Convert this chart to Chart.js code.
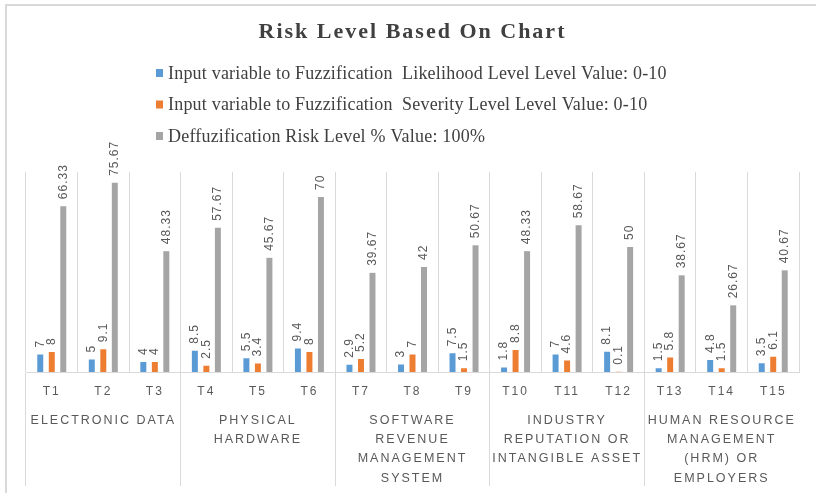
<!DOCTYPE html>
<html>
<head>
<meta charset="utf-8">
<title>Risk Level Based On Chart</title>
<script src="https://cdn.jsdelivr.net/npm/chart.js@4/dist/chart.umd.min.js"></script>
<style>
  html, body { margin: 0; padding: 0; background: #ffffff; }
  #wrap { width: 816px; height: 493px; }
</style>
</head>
<body>
<div id="wrap"><canvas id="riskChart" width="816" height="493"></canvas></div>
<script>
var tasks = ['T1', 'T2', 'T3', 'T4', 'T5', 'T6', 'T7', 'T8', 'T9', 'T10', 'T11', 'T12', 'T13', 'T14', 'T15'];

var groups = [
    ['ELECTRONIC DATA'],
    ['PHYSICAL', 'HARDWARE'],
    ['SOFTWARE', 'REVENUE', 'MANAGEMENT', 'SYSTEM'],
    ['INDUSTRY', 'REPUTATION OR', 'INTANGIBLE ASSET'],
    ['HUMAN RESOURCE', 'MANAGEMENT', '(HRM) OR', 'EMPLOYERS']
];

var seriesNames = [
    'Input variable to Fuzzification  Likelihood Level Level Value: 0-10',
    'Input variable to Fuzzification  Severity Level Level Value: 0-10',
    'Deffuzification Risk Level % Value: 100%'
];

var likelihood = [7, 5, 4, 8.5, 5.5, 9.4, 2.9, 3, 7.5, 1.8, 7, 8.1, 1.5, 4.8, 3.5];
var severity = [8, 9.1, 4, 2.5, 3.4, 8, 5.2, 7, 1.5, 8.8, 4.6, 0.1, 5.8, 1.5, 6.1];
var riskLevel = [66.33, 75.67, 48.33, 57.67, 45.67, 70, 39.67, 42, 50.67, 48.33, 58.67, 50, 38.67, 26.67, 40.67];

var seriesColors = ['#5b9bd5', '#ed7d31', '#a5a5a5'];

var gridColor = '#d9d9d9';
var textColor = '#595959';
var sansFont = '"Liberation Sans", Arial, sans-serif';
var serifFont = '"Liberation Serif", "Times New Roman", serif';

// frame lines + letter spacing for the axis text
var framePlugin = {
    id: 'frame',
    beforeDraw: function(chart) {
        var ctx = chart.ctx;
        ctx.save();
        ctx.strokeStyle = gridColor;
        ctx.lineWidth = 2;
        ctx.beginPath();
        ctx.moveTo(6, chart.height);
        ctx.lineTo(6, 5);
        ctx.lineTo(chart.width, 5);
        ctx.stroke();
        ctx.restore();
        ctx.letterSpacing = '2px';
    },
    afterDraw: function(chart) {
        chart.ctx.letterSpacing = '0px';
    }
};

// values written above each bar, rotated
var valueLabels = {
    id: 'valueLabels',
    afterDatasetsDraw: function(chart) {
        var ctx = chart.ctx;
        ctx.save();
        ctx.letterSpacing = '1px';
        ctx.font = '12px ' + sansFont;
        ctx.fillStyle = textColor;
        ctx.textAlign = 'left';
        ctx.textBaseline = 'middle';
        chart.data.datasets.forEach(function(ds, iDs) {
            var meta = chart.getDatasetMeta(iDs);
            meta.data.forEach(function(bar, i) {
                ctx.save();
                ctx.translate(bar.x, bar.y - 7);
                ctx.rotate(-Math.PI / 2);
                ctx.fillText(String(ds.data[i]), 0, 0);
                ctx.restore();
            });
        });
        ctx.restore();
    }
};

// legend as a left aligned list under the title
var legendList = {
    id: 'legendList',
    afterDraw: function(chart) {
        var ctx = chart.ctx;
        var rows = [73, 104.5, 136];
        ctx.save();
        ctx.letterSpacing = '0.2px';
        ctx.font = '18px ' + serifFont;
        ctx.textAlign = 'left';
        ctx.textBaseline = 'middle';
        chart.data.datasets.forEach(function(ds, i) {
            ctx.fillStyle = ds.backgroundColor;
            ctx.fillRect(156, rows[i] - 4, 7, 8);
            ctx.fillStyle = '#404040';
            ctx.fillText(ds.label, 168, rows[i] + 1);
        });
        ctx.restore();
    }
};

var datasets = [likelihood, severity, riskLevel].map(function(values, i) {
    return {
        label: seriesNames[i],
        data: values,
        backgroundColor: seriesColors[i],
        xAxisID: 'x',
        categoryPercentage: 0.67,
        barPercentage: 0.52
    };
});

new Chart(document.getElementById('riskChart'), {
    type: 'bar',
    data: {
        labels: tasks,
        datasets: datasets
    },
    options: {
        responsive: false,
        animation: false,
        devicePixelRatio: 1,
        layout: {
            padding: { left: 26, right: 17, top: 0, bottom: 7 }
        },
        plugins: {
            legend: { display: false },
            tooltip: { enabled: false },
            title: {
                display: true,
                text: 'Risk Level Based On Chart',
                color: '#404040',
                font: { family: serifFont, size: 22, weight: 'bold', lineHeight: 1.2 },
                padding: { top: 19, bottom: 126.6 }
            }
        },
        scales: {
            y: {
                display: false,
                min: 0,
                max: 80
            },
            x: {
                position: 'bottom',
                weight: 0,
                offset: true,
                grid: {
                    display: true,
                    offset: true,
                    color: gridColor,
                    drawTicks: true,
                    tickLength: 114,
                    tickColor: function(c) {
                        return c.index % 3 === 0 ? gridColor : 'rgba(0,0,0,0)';
                    }
                },
                border: { display: true, color: gridColor },
                ticks: {
                    padding: -102,
                    color: textColor,
                    autoSkip: false,
                    maxRotation: 0,
                    font: { family: sansFont, size: 12 }
                },
                afterFit: function(scale) {
                    scale.height = 36;
                }
            },
            x2: {
                type: 'category',
                position: 'bottom',
                weight: 1,
                offset: true,
                labels: groups,
                grid: { display: false, drawTicks: false },
                border: { display: false },
                ticks: {
                    padding: 2.5,
                    color: textColor,
                    autoSkip: false,
                    maxRotation: 0,
                    font: { family: sansFont, size: 12.5, lineHeight: 1.55 }
                },
                afterFit: function(scale) {
                    scale.height = 78;
                }
            }
        }
    },
    plugins: [framePlugin, valueLabels, legendList]
});
</script>
</body>
</html>
